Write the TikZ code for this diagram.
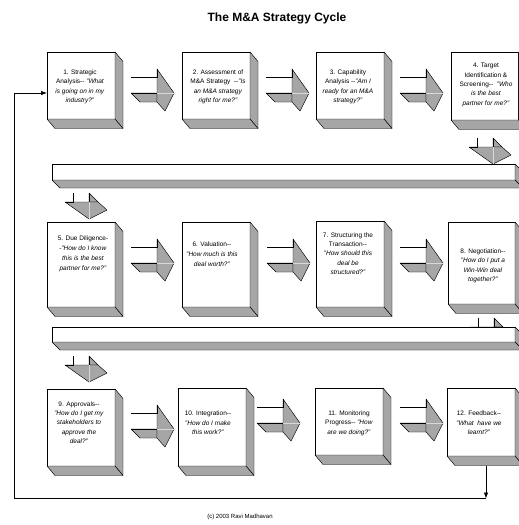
\documentclass[tikz,border=0pt]{standalone}
\usepackage{fontspec}
\setmainfont{Liberation Sans}
\usetikzlibrary{fit,arrows.meta}
\definecolor{sg}{RGB}{166,166,166}
\newcommand\qdd{-\kern0pt-}
\newcommand\qshadow[3]{%
  \filldraw[shadowface] (#1.north east) -- ++(#2,#3) -- ([shift={(#2,#3)}]#1.south east) -- (#1.south east) -- cycle;
  \filldraw[shadowface] (#1.south west) -- (#1.south east) -- ++(#2,#3) -- ([shift={(#2,#3)}]#1.south west) -- cycle;}
\newcommand\qboxat[5]{%
  \node[qbox, fit={(#2,#3) (#4,#5)}] (#1) {};
  \qshadow{#1}{8}{9.5}}
\newcommand\rarr[2]{%
  \begin{scope}[shift={(#1,#2)}]
    \filldraw[shadowface] (0,16) -- (26,16) -- (26,25) -- (9,25) -- cycle;
    \filldraw[shadowface] (26,-8) -- (43,16) -- (34,34) -- (26,25) -- cycle;
    \draw[foldline] (26,16) -- (43,16);
    \draw[shaft] (0,0) -- (26,0) -- (26,-8);
    \draw[shaft] (0,16) -- (26,16);
  \end{scope}}
\newcommand\darr[2]{%
  \begin{scope}[shift={(#1,#2)}]
    \filldraw[shadowface] (16,17) -- (16,26) -- (25,26) -- cycle;
    \filldraw[shadowface] (-8,26) -- (16,43) -- (34,34) -- (25,26) -- cycle;
    \draw[foldline] (16,26) -- (16,43);
    \draw[shaft] (0,17) -- (0,26) -- (-8,26);
    \draw[shaft] (16,17) -- (16,26);
  \end{scope}}
\begin{document}
\begin{tikzpicture}[x=1pt,y=-1pt,
  qbox/.style={draw=black,line width=0.7pt,fill=white,inner sep=0pt,outer sep=0pt,rectangle},
  shadowface/.style={fill=sg,draw=black,line width=0.45pt,line join=round},
  foldline/.style={draw=gray!30,line width=0.5pt},
  qtext/.style={align=center,font=\fontsize{6.5}{9.4}\selectfont,inner sep=0pt},
  shaft/.style={draw=black,line width=0.7pt},
  conn/.style={draw=black,line width=0.7pt},
  tip/.style={-{Latex[length=6pt,width=4.5pt]}}]
\useasboundingbox (0,0) rectangle (519,525);
\clip (0,0) rectangle (519,525);
\fill[white] (0,0) rectangle (519,525);

\node[font=\bfseries\fontsize{12}{14}\selectfont] (title) at (277,18) {The M\&A Strategy Cycle};

% row 1
\qboxat{b1}{47}{52}{115}{119}
\qboxat{b2}{182}{52}{250}{119}
\qboxat{b3}{316}{52}{384}{119}
\qboxat{b4}{451}{52}{518.6}{120}
\rarr{131}{77}\rarr{266}{77}\rarr{400}{77}
\node[qtext] (t1) at (80,87) {1. Strategic\\Analysis\qdd{} \textit{"What}\\\textit{is going on in my}\\\textit{industry?"}};
\node[qtext] (t2) at (218,87) {2. Assessment of\\M\&A Strategy~~\qdd\textit{"Is}\\\textit{an M\&A strategy}\\\textit{right for me?"}};
\node[qtext] (t3) at (348,87) {3. Capability\\Analysis \qdd\textit{"Am I}\\\textit{ready for an M\&A}\\\textit{strategy?"}};
\node[qtext] (t4) at (486,85) {4. Target\\Identification \&\\Screening\qdd{}~ \textit{"Who}\\\textit{is the best}\\\textit{partner for me?"}};

% bar 1
\darr{477}{121}
\node[qbox, fit={(52,164) (515,180)}] (bar1) {};
\qshadow{bar1}{8}{8}
\darr{73}{176}

% row 2
\qboxat{b5}{47}{222}{115}{307}
\qboxat{b6}{182}{222}{250}{307}
\qboxat{b7}{316}{221}{384}{307}
\qboxat{b8}{448}{222}{515}{304}
\rarr{131}{247}\rarr{267}{247}\rarr{400}{247}
\node[qtext,font=\fontsize{6.5}{10}\selectfont] (t5) at (83,254) {5. Due Diligence-\\-\textit{"How do I know}\\\textit{this is the best}\\\textit{partner for me?"}};
\node[qtext,font=\fontsize{6.5}{10}\selectfont] (t6) at (212,254) {6. Valuation\qdd\\\textit{"How much is this}\\\textit{deal worth?"}};
\node[qtext,font=\fontsize{6.5}{9.3}\selectfont] (t7) at (348,253.5) {7. Structuring the\\Transaction\qdd\\\textit{"How should this}\\\textit{deal be}\\\textit{structured?"}};
\node[qtext] (t8) at (483,266) {8. Negotiation\qdd\\\textit{"How do I put a}\\\textit{Win-Win deal}\\\textit{together?"}};

% bar 2
\darr{478}{301}
\node[qbox, fit={(52,327) (515,342)}] (bar2) {};
\qshadow{bar2}{8}{8}
\darr{73}{339}

% row 3
\qboxat{b9}{47}{389}{115}{466}
\qboxat{b10}{178}{388}{246}{466}
\qboxat{b11}{315}{388}{383}{455}
\qboxat{b12}{447}{388}{515}{456}
\rarr{131}{413}\rarr{257}{407}\rarr{400}{407}
\node[qtext] (t9) at (79,422.5) {9. Approvals\qdd\\\textit{"How do I get my}\\\textit{stakeholders to}\\\textit{approve the}\\\textit{deal?"}};
\node[qtext] (t10) at (208,423) {10. Integration\qdd\\\textit{"How do I make}\\\textit{this work?"}};
\node[qtext] (t11) at (349,423) {11. Monitoring\\Progress\qdd{} \textit{"How}\\\textit{are we doing?"}};
\node[qtext] (t12) at (479,423) {12. Feedback\qdd\\\textit{"What~~have we}\\\textit{learnt?"}};

% feedback loop
\coordinate (fbS) at (486,465.5);
\coordinate (fbE) at (486,498.5);
\coordinate (lpL) at (14,498.5);
\draw[conn,tip] (fbS) -- (fbE);
\draw[conn,tip] (fbE) -- (lpL) |- ([yshift=-7.5pt]b1.west);

\node[font=\fontsize{6}{7}\selectfont] (copy) at (240,517) {(c) 2003 Ravi Madhavan};
\end{tikzpicture}
\end{document}
